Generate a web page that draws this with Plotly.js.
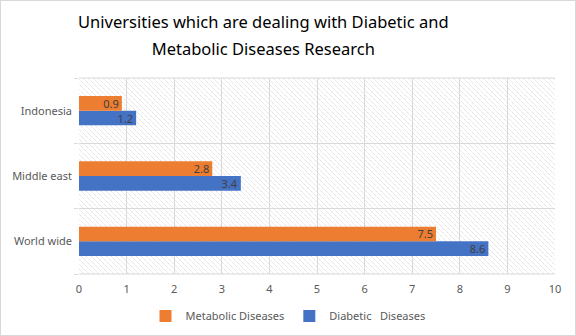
<!DOCTYPE html>
<html>
<head>
<meta charset="utf-8">
<script src="https://cdn.plot.ly/plotly-3.0.1.min.js"></script>
<style>
html,body{margin:0;padding:0;background:#fff;}
#chart{width:576px;height:336px;box-sizing:border-box;border:1px solid #d9d9d9;}
</style>
</head>
<body>
<div id="chart"></div>
<script>
const categories = ['World wide', 'Middle east', 'Indonesia'];
const metabolic = [7.5, 2.8, 0.9];
const diabetic = [8.6, 3.4, 1.2];
const seriesNames = ['Metabolic Diseases', 'Diabetic\u00a0\u00a0 Diseases'];
const xTicks = [0,1,2,3,4,5,6,7,8,9,10];
const titleLine1 = 'Universities which are dealing with Diabetic and';
const titleLine2 = 'Metabolic Diseases Research';

const W = 574, H = 334;
const mL = 78, mR = 20, mT = 77, mB = 61;
const pw = W - mL - mR, ph = H - mT - mB;

// hatched plot-area background
let lines = '';
for (let i = -ph; i < pw + ph; i += 5) {
  lines += `<line x1="${i}" y1="0" x2="${i + ph}" y2="${ph}" />`;
}
const svg = `<svg xmlns="http://www.w3.org/2000/svg" width="${pw}" height="${ph}" viewBox="0 0 ${pw} ${ph}" preserveAspectRatio="none"><g stroke="#dadada" stroke-width="1" stroke-dasharray="1.2 0.8">${lines}</g></svg>`;
const bgSrc = 'data:image/svg+xml;charset=utf-8,' + encodeURIComponent(svg);

const font = "'Noto Sans', 'Liberation Sans', sans-serif";
const sp = s => `<span style="font-size:16.5px">${s}</span>`;

const traces = [
  {
    type: 'bar', orientation: 'h', name: seriesNames[1],
    y: categories, x: diabetic,
    text: diabetic.map(v => v.toFixed(1)),
    textposition: 'inside', insidetextanchor: 'end', constraintext: 'none',
    textfont: {color: '#404040', size: 11, family: font},
    marker: {color: '#4472C4'},
    hoverinfo: 'skip'
  },
  {
    type: 'bar', orientation: 'h', name: seriesNames[0],
    y: categories, x: metabolic,
    text: metabolic.map(v => v.toFixed(1)),
    textposition: 'inside', insidetextanchor: 'end', constraintext: 'none',
    textfont: {color: '#404040', size: 11, family: font},
    marker: {color: '#ED7D31'},
    hoverinfo: 'skip'
  }
];

const layout = {
  width: W, height: H,
  margin: {l: mL, r: mR, t: mT, b: mB, pad: 0},
  paper_bgcolor: '#ffffff',
  plot_bgcolor: 'rgba(0,0,0,0)',
  font: {family: font, color: '#595959', size: 11},
  title: {
    text: sp(titleLine1) + '<br>' + sp(titleLine2),
    font: {family: font, size: 21, color: '#000000'},
    x: 0.457, xanchor: 'center', xref: 'container',
    y: 0.92, yanchor: 'middle', yref: 'container'
  },
  barmode: 'group',
  bargap: 0.55,
  bargroupgap: 0,
  xaxis: {
    range: [0, 10],
    tickvals: xTicks,
    ticktext: xTicks.map(String),
    showgrid: true, gridcolor: '#d9d9d9', gridwidth: 1,
    zeroline: false, showline: false,
    ticks: '',
    ticklabelstandoff: 7,
    tickfont: {size: 11, color: '#595959', family: font},
    fixedrange: true
  },
  yaxis: {
    type: 'category',
    categoryorder: 'array', categoryarray: categories,
    tickson: 'boundaries',
    ticks: 'outside', ticklen: 4, tickcolor: '#d9d9d9',
    ticklabelstandoff: 6,
    showgrid: true, gridcolor: '#d9d9d9', gridwidth: 1,
    showline: false, zeroline: false,
    tickfont: {size: 11, color: '#595959', family: font},
    fixedrange: true
  },
  legend: {
    orientation: 'h', traceorder: 'reversed',
    xref: 'container', yref: 'container',
    x: 0.5, xanchor: 'center', y: 0.057, yanchor: 'middle',
    font: {size: 11, color: '#595959', family: font},
    itemwidth: 30
  },
  images: [{
    source: bgSrc, xref: 'paper', yref: 'paper',
    x: 0, y: 1, sizex: 1, sizey: 1, xanchor: 'left', yanchor: 'top',
    sizing: 'stretch', layer: 'below'
  }],
  shapes: [
    {type: 'line', xref: 'paper', yref: 'paper', x0: 0, x1: 1, y0: 1, y1: 1, line: {color: '#d9d9d9', width: 1}},
    {type: 'line', xref: 'paper', yref: 'paper', x0: 0, x1: 1, y0: 0, y1: 0, line: {color: '#d9d9d9', width: 1}}
  ]
};

Plotly.newPlot('chart', traces, layout, {displayModeBar: false, staticPlot: true});
</script>
</body>
</html>
